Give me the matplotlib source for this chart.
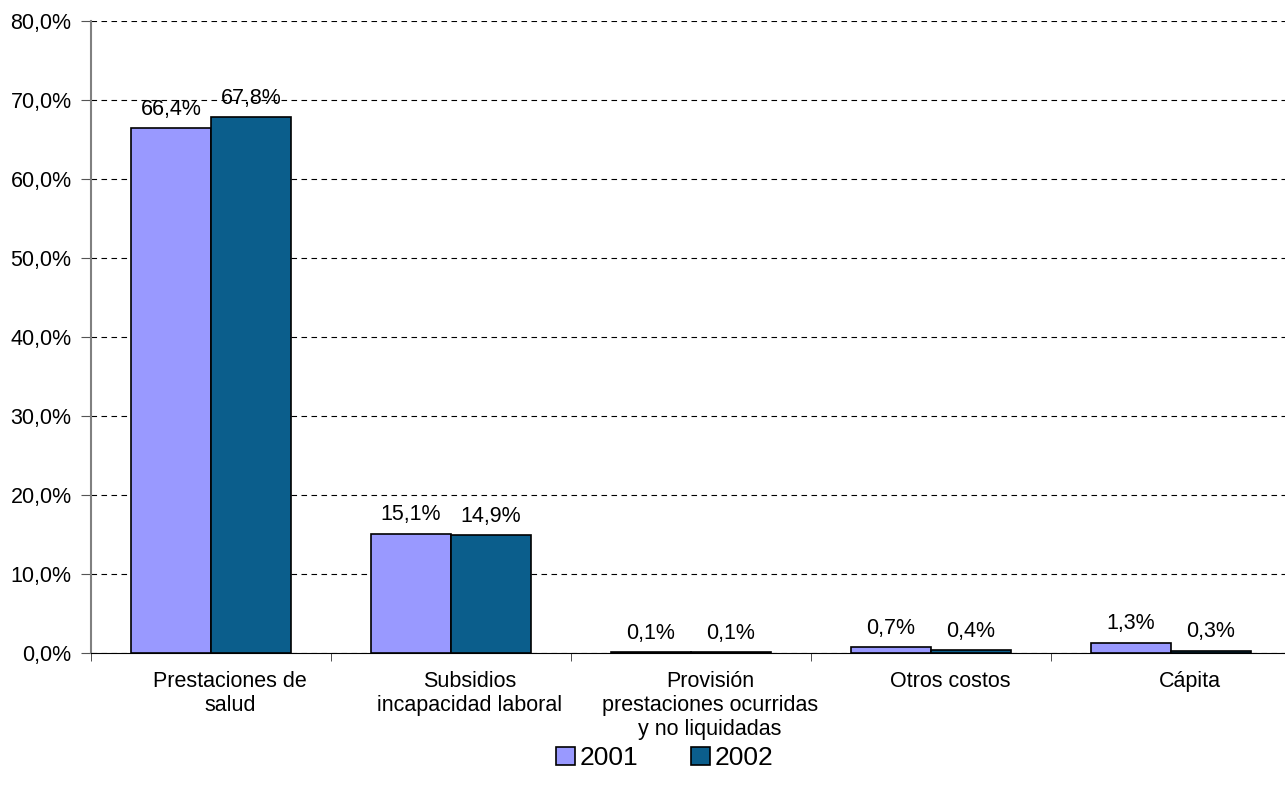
import matplotlib.pyplot as plt
import matplotlib.transforms as mtransforms
from matplotlib.ticker import FuncFormatter
import numpy as np

plt.rcParams['font.family'] = ['Liberation Sans', 'DejaVu Sans']

# categorias y valores (%)
categorias = ['Prestaciones de\nsalud', 'Subsidios\nincapacidad laboral',
              'Provisión\nprestaciones ocurridas\ny no liquidadas', 'Otros costos', 'Cápita']
v2001 = [66.4, 15.1, 0.1, 0.7, 1.3]
v2002 = [67.8, 14.9, 0.1, 0.4, 0.3]
etiq2001 = ['66,4%', '15,1%', '0,1%', '0,7%', '1,3%']
etiq2002 = ['67,8%', '14,9%', '0,1%', '0,4%', '0,3%']

fig = plt.figure(figsize=(12.85, 7.91), dpi=100)
ax = fig.add_axes([91/1285, 1 - 653/791, 1200/1285, 632/791])

x = np.arange(len(categorias))
w = 1/3
b1 = ax.bar(x - w/2, v2001, w, color='#9999FF', edgecolor='black', linewidth=1.2, label='2001', zorder=3)
b2 = ax.bar(x + w/2, v2002, w, color='#0B5E8C', edgecolor='black', linewidth=1.2, label='2002', zorder=3)

for bars, labs in [(b1, etiq2001), (b2, etiq2002)]:
    for r, t in zip(bars, labs):
        ax.annotate(t, (r.get_x() + r.get_width()/2, r.get_height()), xytext=(0, 6),
                    textcoords='offset points', ha='center', va='bottom', fontsize=15.5, zorder=4)

ax.set_xlim(-0.5, len(categorias) - 0.5)
ax.set_ylim(0, 80)
ax.set_yticks(range(0, 81, 10))
ax.yaxis.set_major_formatter(FuncFormatter(lambda v, p: f'{v:.1f}%'.replace('.', ',')))
ax.yaxis.grid(True, linestyle=(0, (5, 4)), color='black', linewidth=0.8, zorder=0)

ax.set_xticks(x)
ax.set_xticklabels(categorias, fontsize=15.5, linespacing=1.2)
ax.set_xticks(np.arange(-0.5, len(categorias)), minor=True)
ax.tick_params(axis='x', which='major', length=0, pad=13)
ax.tick_params(axis='x', which='minor', length=6, direction='out', color='#333333')
ax.tick_params(axis='y', labelsize=15.5, length=7, pad=7, color='#555555')
off = mtransforms.ScaledTranslation(19/100, 0, fig.dpi_scale_trans)
for lab in ax.get_xticklabels():
    lab.set_transform(lab.get_transform() + off)

for s in ['top', 'right']:
    ax.spines[s].set_visible(False)
ax.spines['left'].set_color('#808080')
ax.spines['left'].set_linewidth(1.5)
ax.spines['bottom'].set_color('black')

fig.legend(handles=[b1, b2], loc='center', bbox_to_anchor=(665/1285, 1 - 758/791), ncol=2,
           frameon=False, fontsize=19, handlelength=0.7, handleheight=0.7,
           handletextpad=0.2, columnspacing=2.0)

fig.savefig('out.png', dpi=100)
